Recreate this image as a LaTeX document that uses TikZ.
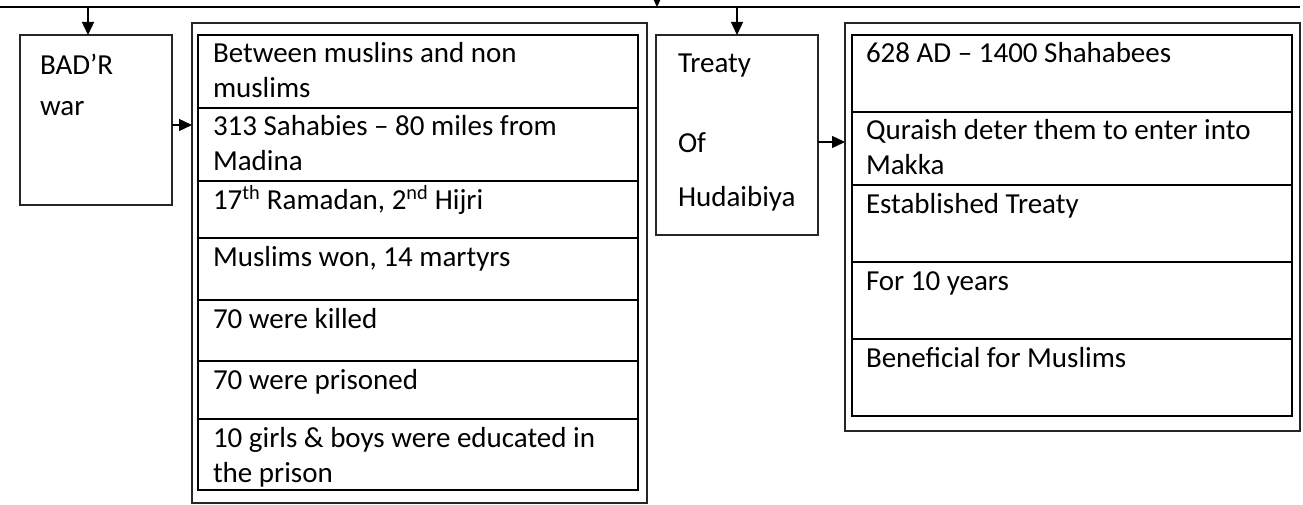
\documentclass[tikz,border=0pt]{standalone}
\usepackage{fontspec}
\setmainfont{Carlito}
\usetikzlibrary{arrows.meta,calc}
\begin{document}
\begin{tikzpicture}[x=1pt,y=-1pt,
  every node/.style={inner sep=0pt, outer sep=0pt},
  frame/.style={draw=black!85, line width=1.3pt, anchor=north west},
  cell/.style={draw=black, line width=1.9pt, anchor=north west, minimum width=440pt},
  txt/.style={anchor=north west, align=left, font=\fontsize{29}{35}\selectfont},
  arr/.style={line width=1.4pt, -{Triangle[length=13pt,width=12pt]}},
]
\useasboundingbox (0,0) rectangle (1303,505);

% left title box
\node[frame, minimum width=152pt, minimum height=170pt] (badr) at (20,35) {};
\node[txt] (badrt) at ([shift={(20pt,-15.5pt)}]badr.north west) {\strut BAD’R\\[6pt]war};

% left double box
\node[frame, minimum width=455pt, minimum height=480pt] (lout) at (192,23) {};
\node[cell, minimum height=73pt] (l1) at (198,35) {};
\node[cell, minimum height=73pt] (l2) at (198,108) {};
\node[cell, minimum height=57pt] (l3) at (198,181) {};
\node[cell, minimum height=62pt] (l4) at (198,238) {};
\node[cell, minimum height=61pt] (l5) at (198,300) {};
\node[cell, minimum height=58pt] (l6) at (198,361) {};
\node[cell, minimum height=71pt] (l7) at (198,419) {};
\node[txt] (l1t) at ([shift={(15pt,-3.5pt)}]l1.north west) {\strut Between muslins and non\\muslims};
\node[txt] (l2t) at ([shift={(15pt,-3.5pt)}]l2.north west) {\strut 313 Sahabies – 80 miles from\\Madina};
\node[txt] (l3t) at ([shift={(15pt,-3.5pt)}]l3.north west) {\strut 17\textsuperscript{th} Ramadan, 2\textsuperscript{nd} Hijri};
\node[txt] (l4t) at ([shift={(15pt,-3.5pt)}]l4.north west) {\strut Muslims won, 14 martyrs};
\node[txt] (l5t) at ([shift={(15pt,-3.5pt)}]l5.north west) {\strut 70 were killed};
\node[txt] (l6t) at ([shift={(15pt,-3.5pt)}]l6.north west) {\strut 70 were prisoned};
\node[txt] (l7t) at ([shift={(15pt,-3.5pt)}]l7.north west) {\strut 10 girls \& boys were educated in\\the prison};

% middle title box
\node[frame, minimum width=162pt, minimum height=200pt] (treaty) at (656,35) {};
\node[txt] (treatyt) at ([shift={(22pt,-13.5pt)}]treaty.north west) {\strut Treaty\\[45pt]Of\\[19pt]Hudaibiya};

% right double box
\node[frame, minimum width=455pt, minimum height=408pt] (rout) at (845,23) {};
\node[cell, minimum height=77pt] (r1) at (852,35) {};
\node[cell, minimum height=73pt] (r2) at (852,112) {};
\node[cell, minimum height=77pt] (r3) at (852,185) {};
\node[cell, minimum height=77pt] (r4) at (852,262) {};
\node[cell, minimum height=77pt] (r5) at (852,339) {};
\node[txt] (r1t) at ([shift={(14pt,-3.5pt)}]r1.north west) {\strut 628 AD – 1400 Shahabees};
\node[txt] (r2t) at ([shift={(14pt,-3.5pt)}]r2.north west) {\strut Quraish deter them to enter into\\Makka};
\node[txt] (r3t) at ([shift={(14pt,-3.5pt)}]r3.north west) {\strut Established Treaty};
\node[txt] (r4t) at ([shift={(14pt,-3.5pt)}]r4.north west) {\strut For 10 years};
\node[txt] (r5t) at ([shift={(14pt,-3.5pt)}]r5.north west) {\strut Beneficial for Muslims};

% connectors
\coordinate (busL) at (0,7);
\coordinate (busR) at (1300,7);
\draw[line width=1.3pt] (busL) -- (busR);
\coordinate (feed) at (657,-12);
\coordinate (feedend) at (657,7);
\draw[arr] (feed) -- (feedend);
\coordinate (b1) at (88,7);
\draw[arr] (b1) -- (b1 |- badr.north);
\coordinate (b2) at (737,7);
\draw[arr] (b2) -- (b2 |- treaty.north);
\coordinate (ba) at ([yshift=-5pt]badr.east);
\draw[arr] (ba) -- (ba -| lout.west);
\coordinate (ta) at ([yshift=-7pt]treaty.east);
\draw[arr] (ta) -- (ta -| rout.west);
\end{tikzpicture}
\end{document}
